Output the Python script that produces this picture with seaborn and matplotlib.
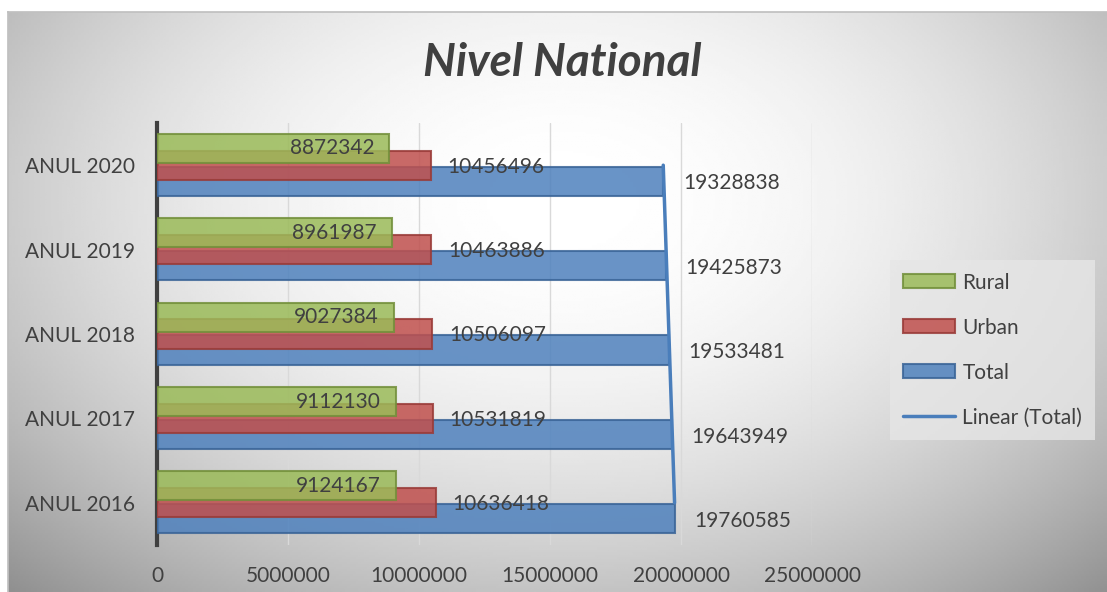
import numpy as np
import pandas as pd
import seaborn as sns
import matplotlib.pyplot as plt
from matplotlib.patches import Patch
from matplotlib.lines import Line2D

years = ["ANUL 2016", "ANUL 2017", "ANUL 2018", "ANUL 2019", "ANUL 2020"]
total = [19760585, 19643949, 19533481, 19425873, 19328838]
urban = [10636418, 10531819, 10506097, 10463886, 10456496]
rural = [9124167, 9112130, 9027384, 8961987, 8872342]

sns.set_theme(style="white")
plt.rcParams["font.family"] = ["Lato", "DejaVu Sans"]
txt = "#404040"
fs = 15

fig = plt.figure(figsize=(11.07, 5.92), dpi=100)

# radial grey background like the office chart style
bg = fig.add_axes([8 / 1107, 0, 1 - 8 / 1107, 580 / 592])
gx, gy = np.meshgrid(np.linspace(-1, 1, 400), np.linspace(-1, 1, 240))
r2 = ((gx - 0.01) / 1.0) ** 2 + ((gy + 0.35) / 1.25) ** 2
grad = np.clip(1.0 - 0.2 * r2, 0, 1)
bg.imshow(grad, cmap="gray", vmin=0, vmax=1, aspect="auto")
bg.set_xticks([])
bg.set_yticks([])
for s in bg.spines.values():
    s.set_color("#C0C0C0")
bg.spines["bottom"].set_visible(False)
bg.spines["right"].set_visible(False)

ax = fig.add_axes([157 / 1107, 1 - 545 / 592, (812 - 157) / 1107, (545 - 123) / 592])
ax.set_facecolor("none")

pos = np.arange(len(years))
bh = 0.345
series = [
    ("Total", total, -0.19, "#4F81BD", "#3A6497"),
    ("Urban", urban, 0.0, "#C0504D", "#993B38"),
    ("Rural", rural, 0.2, "#9BBB59", "#728F3A"),
]
for name, vals, off, fc, ec in series:
    sns.barplot(x=vals, y=pos + off, orient="h", native_scale=True, width=bh,
                color=fc, edgecolor=ec, linewidth=1.5, alpha=0.85,
                saturation=1, ax=ax, zorder=3)

# linear trendline of Total
k, b = np.polyfit(pos, total, 1)
fit = k * pos + b
ax.plot(fit, pos, color="#4A7EBB", lw=2.5, zorder=4)

for i in pos:
    ax.annotate(str(rural[i]), (rural[i], i + 0.2), xytext=(-11, 0),
                textcoords="offset points", ha="right", va="center",
                fontsize=fs, color=txt, zorder=5)
    ax.annotate(str(urban[i]), (urban[i], i + 0.0), xytext=(12, -1),
                textcoords="offset points", ha="left", va="center",
                fontsize=fs, color=txt, zorder=5)
    ax.annotate(str(total[i]), (total[i], i - 0.19), xytext=(14, -1.5),
                textcoords="offset points", ha="left", va="center",
                fontsize=fs, color=txt, zorder=5)

ax.set_xlim(0, 25000000)
ax.set_ylim(-0.5, 4.5)
ax.set_xticks(np.arange(0, 25000001, 5000000))
ax.set_xticklabels([str(v) for v in range(0, 25000001, 5000000)])
ax.set_yticks(pos)
ax.set_yticklabels(years)
ax.tick_params(axis="y", length=0, pad=16, labelsize=fs, labelcolor=txt)
ax.tick_params(axis="x", length=0, pad=15, labelsize=fs, labelcolor=txt)
ax.xaxis.grid(True, color="#D9D9D9", lw=1, zorder=0)
ax.set_axisbelow(True)
for s in ["top", "right", "bottom"]:
    ax.spines[s].set_visible(False)
ax.spines["left"].set_color("#404040")
ax.spines["left"].set_linewidth(3)
ax.set_xlabel("")
ax.set_ylabel("")

fig.text(0.508, 1 - 63 / 592, "Nivel National", fontsize=33, style="italic",
         weight="bold", color=txt, ha="center", va="center")

handles = [
    Patch(facecolor="#9BBB59", edgecolor="#728F3A", lw=1.5, alpha=0.85),
    Patch(facecolor="#C0504D", edgecolor="#993B38", lw=1.5, alpha=0.85),
    Patch(facecolor="#4F81BD", edgecolor="#3A6497", lw=1.5, alpha=0.85),
    Line2D([0], [0], color="#4A7EBB", lw=2.5),
]
leg = fig.legend(handles, ["Rural", "Urban", "Total", "Linear (Total)"],
                 loc="upper left", bbox_to_anchor=(890 / 1107, 1 - 260 / 592),
                 fontsize=fs, frameon=True, fancybox=False,
                 handlelength=2.5, handleheight=0.67, handletextpad=0.38,
                 labelspacing=1.2, borderpad=0.6, borderaxespad=0,
                 labelcolor=txt)
leg.get_frame().set_facecolor("#E6E6E6")
leg.get_frame().set_edgecolor("none")
leg.get_frame().set_alpha(0.8)

fig.savefig("out.png", dpi=100)
